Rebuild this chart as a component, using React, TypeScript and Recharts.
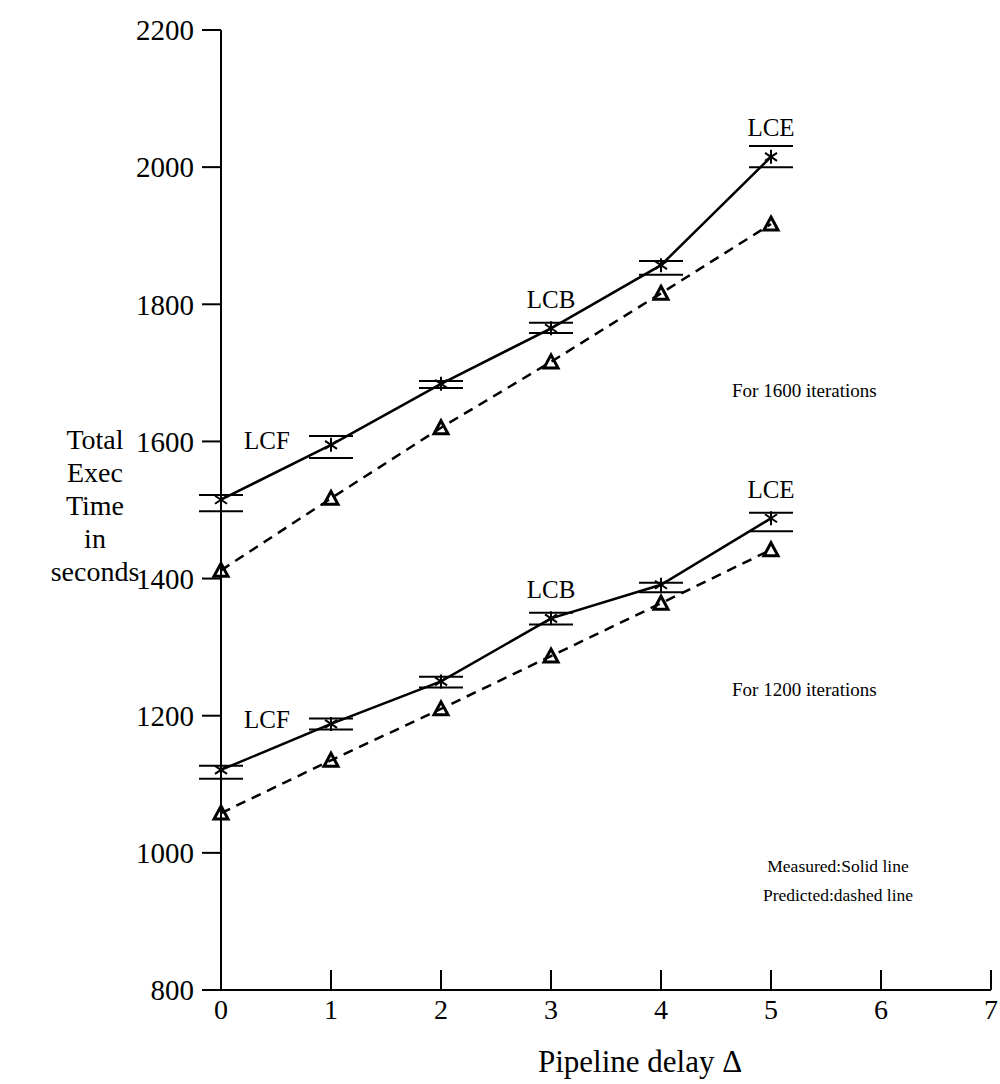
import { ComposedChart, Line, XAxis, YAxis, LabelList } from 'recharts';

// pipeline delay (x) and total execution time in seconds (y)
const delays = [0, 1, 2, 3, 4, 5];
const measured1600 = [1515, 1595, 1684, 1765, 1857, 2015];
const errLow1600 = [1498, 1576, 1678, 1758, 1843, 2000];
const errHigh1600 = [1522, 1608, 1688, 1773, 1863, 2031];
const predicted1600 = [1412, 1517, 1620, 1716, 1816, 1917];
const measured1200 = [1121, 1188, 1250, 1342, 1391, 1488];
const errLow1200 = [1108, 1180, 1241, 1333, 1380, 1469];
const errHigh1200 = [1127, 1196, 1257, 1350, 1394, 1496];
const predicted1200 = [1058, 1135, 1210, 1287, 1364, 1442];
const pointLabels = ['', 'LCF', '', 'LCB', '', 'LCE'];
const xTicks = [0, 1, 2, 3, 4, 5, 6, 7];
const yTicks = [800, 1000, 1200, 1400, 1600, 1800, 2000, 2200];

const FONT = '"Liberation Serif", "Times New Roman", serif';

const rows = delays.map((d, i) => ({
  x: d,
  m16: measured1600[i],
  lo16: errLow1600[i],
  hi16: errHigh1600[i],
  p16: predicted1600[i],
  m12: measured1200[i],
  lo12: errLow1200[i],
  hi12: errHigh1200[i],
  p12: predicted1200[i],
  lab: pointLabels[i],
}));

const Star = (props: any) => {
  const { cx, cy } = props;
  if (cx == null || cy == null) return null;
  return (
    <g stroke="#000" strokeWidth={2}>
      <line x1={cx} y1={cy - 7} x2={cx} y2={cy + 7} />
      <line x1={cx - 6} y1={cy - 4} x2={cx + 6} y2={cy + 4} />
      <line x1={cx - 6} y1={cy + 4} x2={cx + 6} y2={cy - 4} />
    </g>
  );
};

const Triangle = (props: any) => {
  const { cx, cy } = props;
  if (cx == null || cy == null) return null;
  return (
    <path
      d={`M${cx},${cy - 7} L${cx + 7},${cy + 6} L${cx - 7},${cy + 6} Z`}
      fill="none"
      stroke="#000"
      strokeWidth={3}
    />
  );
};

const Cap = (props: any) => {
  const { cx, cy } = props;
  if (cx == null || cy == null) return null;
  return <line x1={cx - 22} y1={cy} x2={cx + 22} y2={cy} stroke="#000" strokeWidth={2} />;
};

const XTick = (props: any) => {
  const { x, y, payload } = props;
  return (
    <g>
      <line x1={x} y1={y} x2={x} y2={y - 20} stroke="#000" strokeWidth={2} />
      <text x={x} y={y + 29} textAnchor="middle" fontSize={28} fontFamily={FONT} fill="#000">
        {payload.value}
      </text>
    </g>
  );
};

const renderPointLabel = (props: any) => {
  const { x, y, value } = props;
  if (!value) return null;
  if (value === 'LCF') {
    return (
      <text x={x - 64} y={y - 4} textAnchor="middle" dominantBaseline="central" fontSize={25} fontFamily={FONT} fill="#000">
        {value}
      </text>
    );
  }
  return (
    <text x={x} y={y - 29} textAnchor="middle" dominantBaseline="central" fontSize={25} fontFamily={FONT} fill="#000">
      {value}
    </text>
  );
};

const note = (left: number, top: number, size: number, text: string, extra: any = {}) => (
  <div
    style={{
      position: 'absolute',
      left,
      top,
      fontSize: size,
      fontFamily: FONT,
      color: '#000',
      whiteSpace: 'nowrap',
      lineHeight: 1,
      ...extra,
    }}
  >
    {text}
  </div>
);

export default function App() {
  return (
    <div style={{ position: 'absolute', left: 0, top: 0, width: 1000, height: 1084, background: '#fff' }}>
      <ComposedChart
        width={1000}
        height={1084}
        data={rows}
        margin={{ top: 30, right: 9, left: 161, bottom: 64 }}
      >
        <XAxis
          dataKey="x"
          type="number"
          domain={[0, 7]}
          ticks={xTicks}
          height={30}
          tickLine={false}
          tickSize={0}
          tickMargin={0}
          tick={<XTick />}
          axisLine={{ stroke: '#000', strokeWidth: 2 }}
        />
        <YAxis
          type="number"
          domain={[800, 2200]}
          ticks={yTicks}
          width={60}
          tickSize={19}
          tickMargin={8}
          tickLine={{ stroke: '#000', strokeWidth: 2 }}
          axisLine={{ stroke: '#000', strokeWidth: 2 }}
          tick={{ fontSize: 29, fontFamily: FONT, fill: '#000' }}
        />

        {/* error bar caps */}
        <Line dataKey="lo16" stroke="#000" strokeOpacity={0} dot={<Cap />} activeDot={false} isAnimationActive={false} />
        <Line dataKey="hi16" stroke="#000" strokeOpacity={0} dot={<Cap />} activeDot={false} isAnimationActive={false} />
        <Line dataKey="lo12" stroke="#000" strokeOpacity={0} dot={<Cap />} activeDot={false} isAnimationActive={false} />
        <Line dataKey="hi12" stroke="#000" strokeOpacity={0} dot={<Cap />} activeDot={false} isAnimationActive={false} />

        {/* predicted: dashed */}
        <Line
          dataKey="p16"
          type="linear"
          stroke="#000"
          strokeWidth={2.5}
          strokeDasharray="10 7"
          dot={<Triangle />}
          activeDot={false}
          isAnimationActive={false}
        />
        <Line
          dataKey="p12"
          type="linear"
          stroke="#000"
          strokeWidth={2.5}
          strokeDasharray="10 7"
          dot={<Triangle />}
          activeDot={false}
          isAnimationActive={false}
        />

        {/* measured: solid */}
        <Line
          dataKey="m16"
          type="linear"
          stroke="#000"
          strokeWidth={2.5}
          dot={<Star />}
          activeDot={false}
          isAnimationActive={false}
        >
          <LabelList dataKey="lab" content={renderPointLabel} />
        </Line>
        <Line
          dataKey="m12"
          type="linear"
          stroke="#000"
          strokeWidth={2.5}
          dot={<Star />}
          activeDot={false}
          isAnimationActive={false}
        >
          <LabelList dataKey="lab" content={renderPointLabel} />
        </Line>
      </ComposedChart>

      <div
        style={{
          position: 'absolute',
          left: 30,
          top: 423,
          width: 130,
          textAlign: 'center',
          fontSize: 28,
          lineHeight: '33px',
          fontFamily: FONT,
          color: '#000',
        }}
      >
        <div>Total</div>
        <div>Exec</div>
        <div>Time</div>
        <div>in</div>
        <div>seconds</div>
      </div>

      {note(732, 381, 19, 'For 1600 iterations')}
      {note(732, 680, 19, 'For 1200 iterations')}
      {note(748, 858, 17.5, 'Measured:Solid line', { width: 180, textAlign: 'center' })}
      {note(748, 887, 17.5, 'Predicted:dashed line', { width: 180, textAlign: 'center' })}
      {note(520, 1046, 31, 'Pipeline delay \u0394', { width: 240, textAlign: 'center' })}
    </div>
  );
}
